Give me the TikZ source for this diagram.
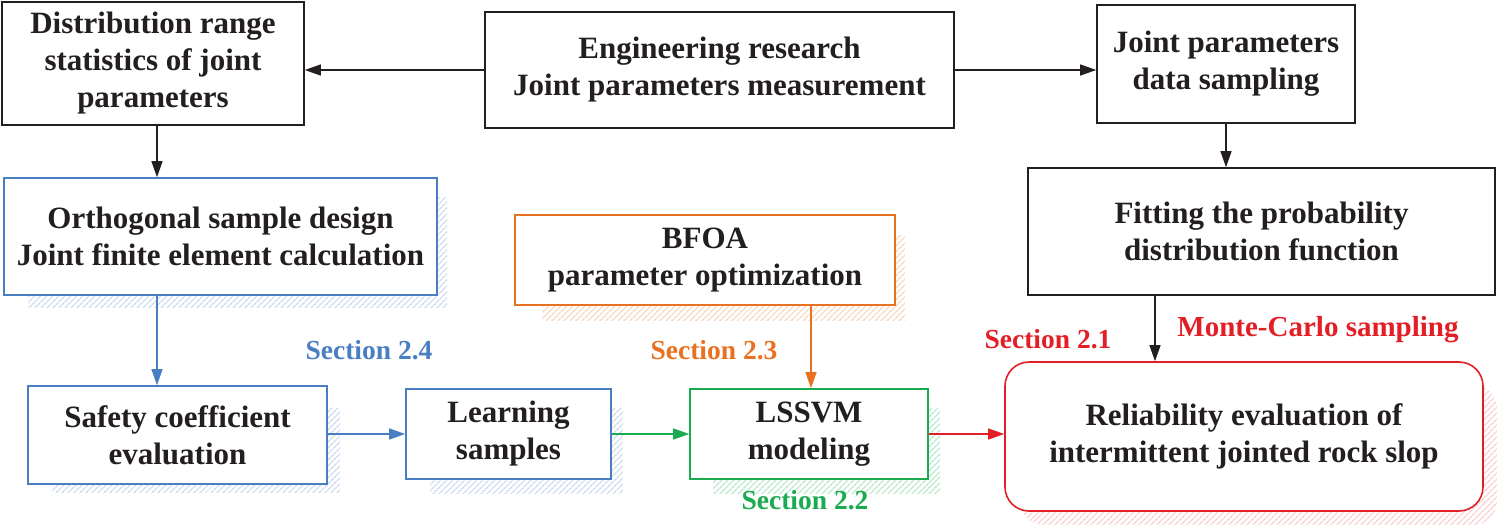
\documentclass[tikz,border=0pt]{standalone}
\usepackage{fontspec}
\setmainfont{Liberation Serif}
\usetikzlibrary{arrows.meta,patterns.meta,backgrounds}

\definecolor{cblack}{RGB}{35,31,32}
\definecolor{cblue}{RGB}{74,126,194}
\definecolor{corange}{RGB}{232,114,34}
\definecolor{cgreen}{RGB}{26,170,80}
\definecolor{cred}{RGB}{226,30,38}

\tikzset{
  box/.style={draw=#1, line width=1.6pt, fill=white, align=center, inner sep=0pt,
    text=cblack, font=\bfseries\fontsize{31}{37}\selectfont},
  hatch/.style={pattern={Lines[angle=45,distance=4pt,line width=1.6pt]}, pattern color=#1},
  arr/.style={draw=#1, line width=1.2pt, -{Triangle[length=16pt,width=11pt]}},
  seclabel/.style={text=#1, font=\bfseries\fontsize{27.5}{32}\selectfont, inner sep=0pt}
}

\begin{document}
\begin{tikzpicture}[x=1pt,y=1pt,yscale=-1]
\useasboundingbox (0,0) rectangle (1502,530);

%Shape: Rectangle, top row
\node[box=cblack, minimum width=302, minimum height=123] (dist) at (153,63.5) {Distribution range\\statistics of joint\\parameters};
\node[box=cblack, minimum width=469, minimum height=116] (eng) at (719.5,70) {Engineering research\\Joint parameters measurement};
\node[box=cblack, minimum width=258, minimum height=118] (samp) at (1226,64) {Joint parameters\\data sampling};
\node[box=cblack, minimum width=467, minimum height=127] (fit) at (1261.5,231.5) {Fitting the probability\\distribution function};

%Shape: Hatched shadows
\fill[hatch=cblue!28] (28,197) rectangle (447,307);
\fill[hatch=corange!30] (542,235) rectangle (905,320);
\fill[hatch=cblue!28] (52,408) rectangle (340,492);
\fill[hatch=cblue!28] (430,408) rectangle (623,493);
\fill[hatch=cgreen!30] (713,408) rectangle (940,493);
\fill[hatch=cred!22, rounded corners=24pt] (1020,385) rectangle (1497,525);

%Shape: Rectangle, coloured boxes
\node[box=cblue, minimum width=433, minimum height=117] (orth) at (220.5,236.5) {Orthogonal sample design\\Joint finite element calculation};
\node[box=corange, minimum width=380, minimum height=90] (bfoa) at (705,260) {BFOA\\parameter optimization};
\node[box=cblue, minimum width=299, minimum height=98] (safe) at (177.5,435) {Safety coefficient\\evaluation};
\node[box=cblue, minimum width=205, minimum height=90] (learn) at (508.5,434) {Learning\\samples};
\node[box=cgreen, minimum width=238, minimum height=90] (lssvm) at (809,434) {LSSVM\\modeling};
\node[box=cred, rounded corners=24pt, minimum width=478, minimum height=149] (rel) at (1244,436.5) {Reliability evaluation of\\intermittent jointed rock slop};

%Straight Lines
\draw[arr=cblack] (eng.west) -- (dist.east |- eng.west);
\draw[arr=cblack] (eng.east) -- (samp.west |- eng.east);
\draw[arr=cblack] (dist.south -| orth.north) ++(-63.5,0) coordinate (a1) -- (a1 |- orth.north);
\draw[arr=cblack] (samp.south) -- (samp.south |- fit.north);
\draw[arr=cblack] ([xshift=-106.5]fit.south) -- ([xshift=-106.5]fit.south |- rel.north);
\draw[arr=cblue] (a1 |- orth.south) -- (a1 |- safe.north);
\draw[arr=cblue] (safe.east |- learn.west) -- (learn.west);
\draw[arr=cgreen] (learn.east) -- (lssvm.west);
\draw[arr=corange] (lssvm.north |- bfoa.south) ++(2,0) coordinate (a2) -- (a2 |- lssvm.north);
\draw[arr=cred] (lssvm.east) -- (lssvm.east -| rel.west);

% Text Node
\node[seclabel=cblue] (s24) at (369,350) {Section 2.4};
\node[seclabel=corange] (s23) at (714,350) {Section 2.3};
\node[seclabel=cgreen] (s22) at (805,500) {Section 2.2};
\node[seclabel=cred] (s21) at (1048,339) {Section 2.1};
\node[seclabel=cred, font=\bfseries\fontsize{29}{34}\selectfont] (mc) at (1318,330) {Monte-Carlo sampling};

\end{tikzpicture}
\end{document}
